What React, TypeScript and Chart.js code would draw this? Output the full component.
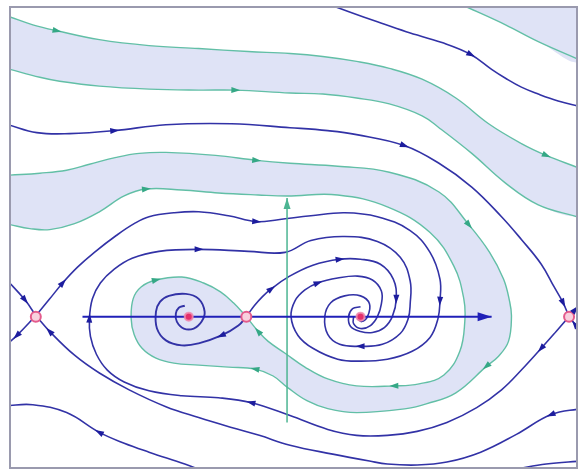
import React, { useEffect, useRef } from 'react';
import { Chart, registerables } from 'chart.js';
Chart.register(...registerables);

type P = [number, number];

// ---- phase plane window ----
const xRange: P = [-2.79, 2.92];
const yRange: P = [-1.53, 3.13];

// ---- equilibria ----
const saddles: P[] = [[-2.53, 0], [-0.41, 0], [2.84, 0]];
const foci: P[] = [[-0.99, 0], [0.74, 0]];

// ---- axes ----
const axisH: P[] = [[-2.06, 0], [2.06, 0]];
const axisV: P[] = [[0, -1.07], [0, 1.20]];

// ---- separatrices (teal) ----
const cornerSep: P[] = [[1.70, 3.18], [1.81, 3.13], [2.20, 2.95], [2.53, 2.78], [2.96, 2.59]];

const bandTopUpper: P[] = [[-2.79, 3.03], [-2.56, 2.95], [-2.32, 2.89], [-1.89, 2.80], [-1.39, 2.74], [-0.89, 2.71], [-0.39, 2.68], [0.03, 2.66], [0.36, 2.63], [0.70, 2.58], [1.03, 2.51], [1.36, 2.40], [1.70, 2.21], [2.03, 1.95], [2.36, 1.75], [2.61, 1.63], [2.92, 1.51]];
const bandTopUpperArrows = [2, 15];

const bandTopLower: P[] = [[-2.79, 2.50], [-2.49, 2.42], [-2.29, 2.38], [-1.89, 2.33], [-1.39, 2.30], [-0.89, 2.29], [-0.52, 2.29], [0.03, 2.26], [0.36, 2.25], [0.70, 2.21], [1.03, 2.15], [1.36, 2.03], [1.53, 1.91], [1.86, 1.65], [2.20, 1.35], [2.53, 1.13], [2.92, 1.01]];
const bandTopLowerArrows = [6];

const sepOuter: P[] = [[-2.79, 1.43], [-2.49, 1.45], [-2.22, 1.48], [-1.99, 1.54], [-1.72, 1.61], [-1.49, 1.65], [-1.22, 1.66], [-0.72, 1.63], [-0.31, 1.58], [0.03, 1.55], [0.51, 1.52], [1.03, 1.46], [1.53, 1.26], [1.83, 0.93], [2.04, 0.65], [2.18, 0.38], [2.24, 0.16], [2.26, 0.00], [2.23, -0.25], [2.13, -0.40], [2.01, -0.50], [1.70, -0.77], [1.41, -0.88], [1.20, -0.93], [0.70, -0.97], [0.41, -0.93], [0.20, -0.85], [0.01, -0.72], [-0.14, -0.60], [-0.32, -0.53], [-0.59, -0.51], [-0.89, -0.49], [-1.14, -0.47], [-1.32, -0.42], [-1.46, -0.32], [-1.54, -0.18], [-1.57, -0.02], [-1.55, 0.18], [-1.47, 0.30], [-1.32, 0.37], [-1.06, 0.40], [-0.84, 0.34], [-0.67, 0.25], [-0.54, 0.14], [-0.41, 0.00]];
const sepOuterArrows = [8, 13, 20, 29, 39];

const sepInner: P[] = [[-2.79, 0.93], [-2.59, 0.89], [-2.39, 0.88], [-2.14, 0.94], [-1.89, 1.06], [-1.64, 1.22], [-1.42, 1.29], [-1.06, 1.28], [-0.69, 1.25], [-0.29, 1.23], [0.00, 1.22], [0.51, 1.23], [1.01, 1.11], [1.44, 0.85], [1.68, 0.51], [1.78, 0.18], [1.79, -0.05], [1.74, -0.35], [1.58, -0.59], [1.33, -0.68], [1.08, -0.70], [0.70, -0.70], [0.41, -0.63], [0.18, -0.51], [-0.02, -0.37], [-0.19, -0.25], [-0.29, -0.15], [-0.41, 0.00]];
const sepInnerArrows = [6, 20, 26];

// ---- trajectories (blue) ----
const trajTopRight: P[] = [[0.41, 3.16], [0.63, 3.08], [0.91, 2.98], [1.20, 2.88], [1.56, 2.77], [1.85, 2.65], [2.06, 2.50], [2.20, 2.41], [2.36, 2.32], [2.53, 2.25], [2.73, 2.18], [2.96, 2.12]];
const trajTopRightArrows = [5];

const trajToRightSaddle: P[] = [[-2.81, 1.94], [-2.52, 1.86], [-2.19, 1.85], [-1.74, 1.88], [-1.22, 1.94], [-0.56, 1.95], [0.03, 1.91], [0.41, 1.88], [0.70, 1.84], [1.18, 1.73], [1.53, 1.55], [1.86, 1.31], [2.16, 1.01], [2.36, 0.78], [2.56, 0.53], [2.69, 0.30], [2.78, 0.14], [2.84, 0.00]];
const trajToRightSaddleArrows = [3, 9, 16];

const trajLeftSaddleOut: P[] = [[-2.53, 0.01], [-2.39, 0.18], [-2.26, 0.34], [-2.11, 0.50], [-1.94, 0.65], [-1.72, 0.82], [-1.54, 0.94], [-1.39, 1.01], [-1.14, 1.05], [-0.89, 1.06], [-0.59, 1.02], [-0.31, 0.96], [-0.09, 0.98], [0.24, 1.02], [0.58, 1.05], [0.91, 1.01], [1.24, 0.87], [1.44, 0.65], [1.54, 0.38], [1.54, 0.16], [1.52, -0.02], [1.44, -0.21], [1.26, -0.35], [1.01, -0.43], [0.74, -0.45], [0.51, -0.43], [0.26, -0.32], [0.11, -0.19], [0.04, 0.00], [0.08, 0.16], [0.18, 0.27], [0.31, 0.34], [0.51, 0.39], [0.71, 0.41], [0.86, 0.37], [0.95, 0.26], [0.95, 0.13], [0.91, 0.00], [0.84, -0.09], [0.74, -0.12], [0.67, -0.07], [0.67, 0.00]];
const trajLeftSaddleOutArrows = [2, 11, 19, 31];

const trajRightSaddleOut: P[] = [[2.84, 0.00], [2.71, -0.15], [2.56, -0.32], [2.36, -0.54], [2.16, -0.74], [1.91, -0.92], [1.61, -1.07], [1.31, -1.16], [1.01, -1.20], [0.70, -1.20], [0.41, -1.14], [0.03, -1.00], [-0.36, -0.87], [-0.69, -0.82], [-1.06, -0.80], [-1.39, -0.75], [-1.64, -0.66], [-1.81, -0.54], [-1.92, -0.38], [-1.98, -0.20], [-1.99, -0.02], [-1.96, 0.18], [-1.88, 0.34], [-1.74, 0.48], [-1.56, 0.59], [-1.29, 0.66], [-0.89, 0.68], [-0.39, 0.66], [-0.02, 0.65], [0.24, 0.77], [0.58, 0.81], [0.91, 0.76], [1.14, 0.60], [1.24, 0.36], [1.24, 0.13], [1.22, -0.02], [1.14, -0.17], [0.96, -0.28], [0.74, -0.30], [0.53, -0.28], [0.41, -0.18], [0.38, 0.00], [0.44, 0.14], [0.58, 0.21], [0.74, 0.21], [0.83, 0.13], [0.81, 0.00], [0.75, -0.05], [0.71, -0.02]];
const trajRightSaddleOutArrows = [2, 12, 20, 26, 38];

const trajMidSaddleRight: P[] = [[-0.41, 0.00], [-0.33, 0.11], [-0.25, 0.20], [-0.16, 0.28], [0.01, 0.40], [0.26, 0.52], [0.53, 0.58], [0.74, 0.58], [0.94, 0.53], [1.07, 0.38], [1.10, 0.18], [1.06, 0.00], [0.98, -0.11], [0.86, -0.16], [0.74, -0.15], [0.64, -0.10], [0.62, 0.00], [0.66, 0.08], [0.74, 0.10]];
const trajMidSaddleRightArrows = [3, 6, 10];

const trajMidSaddleLeft: P[] = [[-0.41, 0.00], [-0.49, -0.09], [-0.66, -0.19], [-0.89, -0.27], [-1.06, -0.29], [-1.22, -0.24], [-1.31, -0.12], [-1.32, 0.05], [-1.28, 0.15], [-1.19, 0.21], [-1.02, 0.23], [-0.89, 0.18], [-0.83, 0.05], [-0.86, -0.05], [-0.94, -0.12], [-1.04, -0.12], [-1.11, -0.05], [-1.12, 0.03], [-1.09, 0.09], [-1.03, 0.11]];
const trajMidSaddleLeftArrows = [2];

const trajBottom: P[] = [[2.96, -0.93], [2.66, -0.99], [2.31, -1.19], [1.95, -1.37], [1.61, -1.47], [1.31, -1.50], [1.01, -1.49], [0.83, -1.46], [0.46, -1.39], [0.03, -1.30], [-0.28, -1.20], [-0.56, -1.12], [-0.89, -1.02], [-1.22, -0.91], [-1.59, -0.74], [-1.89, -0.57], [-2.14, -0.39], [-2.39, -0.15], [-2.53, 0.01]];
const trajBottomArrows = [1, 17];

const trajCornerBR: P[] = [[2.96, -1.46], [2.61, -1.49], [2.31, -1.54]];
const trajCornerBL: P[] = [[-0.84, -1.56], [-1.03, -1.49], [-1.39, -1.37], [-1.64, -1.28], [-1.89, -1.17], [-2.22, -0.97], [-2.56, -0.89], [-2.83, -0.90]];
const trajCornerBLArrows = [4];

const leftSaddleIn: P[] = [[-2.83, 0.38], [-2.64, 0.17], [-2.53, 0.01]];
const leftSaddleOut2: P[] = [[-2.53, 0.01], [-2.72, -0.19], [-2.83, -0.29]];
const rightSaddleOut2: P[] = [[2.84, 0.00], [2.90, 0.07], [2.96, 0.14]];
const rightSaddleIn2: P[] = [[2.96, -0.16], [2.90, -0.08], [2.84, 0.00]];

// ---- styles ----
const BLUE = '#3232a6';
const BLUE_ARROW = '#1d1d9e';
const TEAL = '#62bfa6';
const TEAL_ARROW = '#35a886';
const BAND = '#dfe3f6';

const pts = (a: P[]) => a.map(([x, y]) => ({ x, y }));

const lineDs = (a: P[], color: string, width: number, arrows: number[], arrowColor: string, order: number, extra: any = {}) => ({
  data: pts(a),
  borderColor: color,
  borderWidth: width,
  pointRadius: 0,
  pointHoverRadius: 0,
  fill: false,
  tension: 0.4,
  order,
  arrows,
  arrowColor,
  arrowLen: 9,
  arrowWidth: 6,
  ...extra,
});

const fillDs = (a: P[]) => ({
  data: pts(a),
  borderColor: 'rgba(0,0,0,0)',
  borderWidth: 0,
  backgroundColor: BAND,
  pointRadius: 0,
  fill: 'shape',
  tension: 0.4,
  order: 20,
});

const cornerPoly: P[] = [...cornerSep, [3.1, 3.3]];
const topPoly: P[] = [...bandTopUpper, [3.2, 1.4], [3.2, 1.1], ...[...bandTopLower].reverse()];
const midPoly: P[] = [...sepOuter, ...[...sepInner].reverse().slice(1)];

const arrowPlugin = {
  id: 'flowArrows',
  afterDatasetsDraw(chart: any) {
    const ctx = chart.ctx;
    const a = chart.chartArea;
    ctx.save();
    ctx.beginPath();
    ctx.rect(a.left, a.top, a.right - a.left, a.bottom - a.top);
    ctx.clip();
    chart.data.datasets.forEach((ds: any, di: number) => {
      if (!ds.arrows) return;
      const el = chart.getDatasetMeta(di).data;
      ds.arrows.forEach((i: number) => {
        const p = el[i];
        const q0 = el[Math.max(0, i - 1)];
        const q1 = el[Math.min(el.length - 1, i + 1)];
        const ang = Math.atan2(q1.y - q0.y, q1.x - q0.x);
        const L = ds.arrowLen, W = ds.arrowWidth;
        ctx.save();
        ctx.translate(p.x, p.y);
        ctx.rotate(ang);
        ctx.beginPath();
        if (ds.arrowTip) {
          ctx.moveTo(0, 0);
          ctx.lineTo(-L, W / 2);
          ctx.lineTo(-L, -W / 2);
        } else {
          ctx.moveTo(L * 0.55, 0);
          ctx.lineTo(-L * 0.45, W / 2);
          ctx.lineTo(-L * 0.45, -W / 2);
        }
        ctx.closePath();
        ctx.fillStyle = ds.arrowColor;
        ctx.fill();
        ctx.restore();
      });
    });
    ctx.restore();
  },
};

const framePlugin = {
  id: 'frame',
  beforeDraw(chart: any) {
    const { ctx, width, height } = chart;
    ctx.save();
    ctx.fillStyle = '#ffffff';
    ctx.fillRect(0, 0, width, height);
    ctx.restore();
  },
  afterDraw(chart: any) {
    const { ctx, chartArea: a } = chart;
    ctx.save();
    ctx.strokeStyle = '#9a9aae';
    ctx.lineWidth = 2;
    ctx.strokeRect(a.left, a.top, a.right - a.left, a.bottom - a.top);
    ctx.restore();
  },
};

export default function App() {
  const ref = useRef<HTMLCanvasElement>(null);
  useEffect(() => {
    const datasets: any[] = [
      fillDs(cornerPoly),
      fillDs(topPoly),
      fillDs(midPoly),
      lineDs(cornerSep, TEAL, 1.4, [], TEAL_ARROW, 6),
      lineDs(bandTopUpper, TEAL, 1.4, bandTopUpperArrows, TEAL_ARROW, 6),
      lineDs(bandTopLower, TEAL, 1.4, bandTopLowerArrows, TEAL_ARROW, 6),
      lineDs(sepOuter, TEAL, 1.4, sepOuterArrows, TEAL_ARROW, 6),
      lineDs(sepInner, TEAL, 1.4, sepInnerArrows, TEAL_ARROW, 6),
      lineDs(trajTopRight, BLUE, 1.6, trajTopRightArrows, BLUE_ARROW, 5),
      lineDs(trajToRightSaddle, BLUE, 1.6, trajToRightSaddleArrows, BLUE_ARROW, 5),
      lineDs(trajLeftSaddleOut, BLUE, 1.6, trajLeftSaddleOutArrows, BLUE_ARROW, 5),
      lineDs(trajRightSaddleOut, BLUE, 1.6, trajRightSaddleOutArrows, BLUE_ARROW, 5),
      lineDs(trajMidSaddleRight, BLUE, 1.6, trajMidSaddleRightArrows, BLUE_ARROW, 5),
      lineDs(trajMidSaddleLeft, BLUE, 1.9, trajMidSaddleLeftArrows, BLUE_ARROW, 5),
      lineDs(trajBottom, BLUE, 1.6, trajBottomArrows, BLUE_ARROW, 5),
      lineDs(trajCornerBR, BLUE, 1.6, [], BLUE_ARROW, 5),
      lineDs(trajCornerBL, BLUE, 1.6, trajCornerBLArrows, BLUE_ARROW, 5),
      lineDs(leftSaddleIn, BLUE, 1.6, [1], BLUE_ARROW, 5),
      lineDs(leftSaddleOut2, BLUE, 1.6, [1], BLUE_ARROW, 5),
      lineDs(rightSaddleOut2, BLUE, 1.6, [1], BLUE_ARROW, 5),
      lineDs(rightSaddleIn2, BLUE, 1.6, [1], BLUE_ARROW, 5),
      lineDs(axisH, '#2020b8', 2, [1], '#2020b8', 3, { tension: 0, arrowTip: true, arrowLen: 14, arrowWidth: 9 }),
      lineDs(axisV, '#4cb592', 1.5, [1], '#4cb592', 3, { tension: 0, arrowTip: true, arrowLen: 11, arrowWidth: 7 }),
      {
        data: pts(saddles),
        showLine: false,
        pointRadius: 5,
        pointBackgroundColor: '#f8d0de',
        pointBorderColor: '#e45b8c',
        pointBorderWidth: 2,
        order: 0,
      },
      {
        data: pts(foci),
        showLine: false,
        pointRadius: 4,
        pointBackgroundColor: '#e4306c',
        pointBorderColor: 'rgba(240,140,175,0.85)',
        pointBorderWidth: 2,
        order: 0,
      },
    ];
    const chart = new Chart(ref.current as HTMLCanvasElement, {
      type: 'line',
      data: { datasets },
      options: {
        animation: false,
        responsive: false,
        devicePixelRatio: 1,
        events: [],
        layout: { padding: { left: 10, top: 5, right: 3, bottom: 4 } },
        elements: { line: { capBezierPoints: false } as any },
        plugins: { legend: { display: false }, tooltip: { enabled: false } },
        scales: {
          x: { type: 'linear', min: xRange[0], max: xRange[1], display: false },
          y: { type: 'linear', min: yRange[0], max: yRange[1], display: false },
        },
      } as any,
      plugins: [framePlugin, arrowPlugin],
    } as any);
    return () => chart.destroy();
  }, []);
  return (
    <div style={{ position: 'fixed', left: 0, top: 0, width: 584, height: 475, background: '#fff' }}>
      <canvas ref={ref} width={584} height={475} style={{ display: 'block', width: 584, height: 475 }} />
    </div>
  );
}
